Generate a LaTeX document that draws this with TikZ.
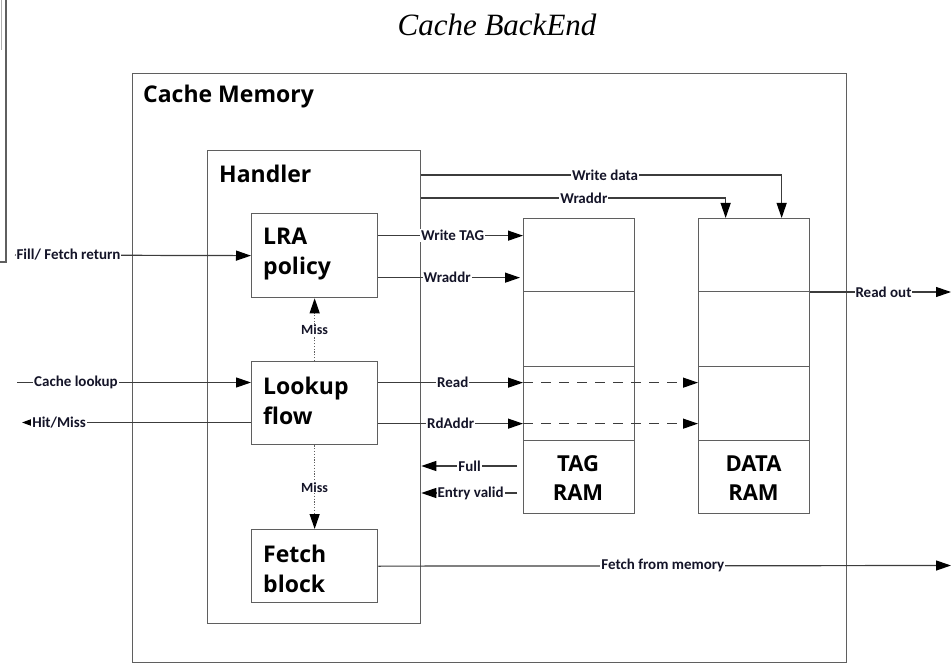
\documentclass[tikz,border=0pt]{standalone}
\usepackage{fontspec}
\usetikzlibrary{arrows.meta,calc}
\newfontfamily\boxfont{Open Sans}
\newfontfamily\lblfont{Carlito}
\newfontfamily\titlefont{Liberation Serif}
\definecolor{edge}{RGB}{95,95,95}
\definecolor{wire}{RGB}{60,60,60}
\definecolor{ink}{RGB}{20,20,40}

\tikzset{
  frame/.style={draw=edge, line width=1.3pt, rectangle, inner sep=0pt, anchor=north west},
  head/.style={font=\boxfont\bfseries\fontsize{23}{29.5}\selectfont, align=left, inner sep=0pt, anchor=west},
  ramtxt/.style={font=\boxfont\bfseries\fontsize{22}{29.5}\selectfont, align=center, inner sep=0pt},
  lbl/.style={font=\lblfont\bfseries\fontsize{15}{18}\selectfont, text=ink, fill=white, inner sep=1pt},
  misslbl/.style={font=\lblfont\bfseries\fontsize{14}{16}\selectfont, text=ink, fill=white, inner sep=1pt},
  sig/.style={draw=wire, line width=1.2pt, -{Triangle[length=15pt,width=10pt,color=black]}},
  smallsig/.style={draw=wire, line width=1.2pt, -{Triangle[length=10pt,width=7pt,color=black]}},
  dashsig/.style={sig, dash pattern=on 10pt off 8pt},
  dotsig/.style={sig, draw=edge, dash pattern=on 1.2pt off 1.6pt},
  divider/.style={draw=edge, line width=1pt}
}

\begin{document}
\begin{tikzpicture}[x=1pt,y=-1pt]
\useasboundingbox (0,0) rectangle (951,663);

% neighbouring frame cut at the left edge
\draw[edge, line width=1.2pt] (6,0) -- (6,262) -- (0,262);
\draw[edge!50, line width=1pt] (1.5,0) -- (1.5,50);

% title
\node[font=\titlefont\itshape\fontsize{31}{36}\selectfont] (title) at (497,25) {Cache BackEnd};

% containers
\node[frame, minimum width=714pt, minimum height=588.5pt] (mem) at (132,73) {};
\node[head] (memtxt) at (143,97) {Cache Memory};
\node[frame, minimum width=213pt, minimum height=473pt] (handler) at (207,150) {};
\node[head] (handlertxt) at (219,174) {Handler};

% handler blocks
\node[frame, minimum width=126pt, minimum height=84pt] (lra) at (251,213) {};
\node[head] (lratxt) at (263,254) {LRA\\policy};
\node[frame, minimum width=126pt, minimum height=83pt] (lookup) at (251,361) {};
\node[head] (lookuptxt) at (263,401) {Lookup\\flow};
\node[frame, minimum width=126pt, minimum height=73pt] (fetch) at (251,529) {};
\node[head] (fetchtxt) at (263,569) {Fetch\\block};

% RAM arrays
\node[frame, minimum width=111pt, minimum height=295pt] (tag) at (523,218) {};
\node[frame, minimum width=111pt, minimum height=295pt] (data) at (698,218) {};
\foreach \d in {74,148,222} {
  \draw[divider] ($(tag.north west)+(0,\d)$) -- ($(tag.north east)+(0,\d)$);
  \draw[divider] ($(data.north west)+(0,\d)$) -- ($(data.north east)+(0,\d)$);
}
\node[ramtxt] (tagtxt) at (578,478) {TAG\\RAM};
\node[ramtxt] (datatxt) at (753.5,478) {DATA\\RAM};

% free ends of the external signals
\coordinate (ffsrc) at (15,255);
\coordinate (clsrc) at (17,382.5);
\coordinate (hmdst) at (22,422.5);
\coordinate (fusrc) at (517,466);
\coordinate (evsrc) at (517,493);
\coordinate (rodst) at (951,292);
\coordinate (fmdst) at (951,565.5);

% writes from the handler into the data RAM
\draw[sig] ([yshift=-25pt]handler.north east) -| node[lbl,pos=0.255]{Write data} ([xshift=27.5pt]data.north);
\draw[sig] ([yshift=-48pt]handler.north east) -| node[lbl,pos=0.267]{Wraddr} ([xshift=-28.5pt]data.north);

% LRA policy to tag RAM
\coordinate (wtag) at ([yshift=20pt]lra.east);
\coordinate (wadr) at ([yshift=-22pt]lra.east);
\draw[sig] (wtag) -- node[lbl,pos=0.514]{Write TAG} (wtag -| tag.west);
\draw[sig] (wadr) -- node[lbl,pos=0.486]{Wraddr} ([xshift=-3pt]wadr -| tag.west);

% lookup flow to tag RAM, forwarded to data RAM
\coordinate (rd) at ([yshift=20.5pt]lookup.east);
\coordinate (ra) at ([yshift=-20.5pt]lookup.east);
\draw[sig] (rd) -- node[lbl,pos=0.514]{Read} (rd -| tag.west);
\draw[sig] (ra) -- node[lbl,pos=0.5]{RdAddr} (ra -| tag.west);
\draw[dashsig] (rd -| tag.west) -- (rd -| data.west);
\draw[dashsig] (ra -| tag.west) -- (ra -| data.west);

% tag RAM status back to the handler
\draw[sig] (fusrc) -- node[lbl,pos=0.495]{Full} (fusrc -| handler.east);
\draw[sig] (evsrc) -- node[lbl,pos=0.485]{Entry valid} (evsrc -| handler.east);

% external inputs and outputs
\draw[sig] (ffsrc) -- node[lbl,pos=0,anchor=west]{Fill/ Fetch return} (lra.west);
\draw[sig] (clsrc) -- node[lbl,pos=0.252]{Cache lookup} (clsrc -| lookup.west);
\draw[smallsig] (hmdst -| lookup.west) -- node[lbl,pos=0.838]{Hit/Miss} (hmdst);
\draw[sig] (data.east |- rodst) -- node[lbl,pos=0.52]{Read out} (rodst);
\draw[sig] (fetch.east) -- node[lbl,pos=0.497]{Fetch from memory} (fmdst);

% miss paths
\draw[dotsig] (lookup.north) -- node[misslbl]{Miss} (lra.south);
\draw[dotsig] (lookup.south) -- node[misslbl]{Miss} (fetch.north);
\end{tikzpicture}
\end{document}
